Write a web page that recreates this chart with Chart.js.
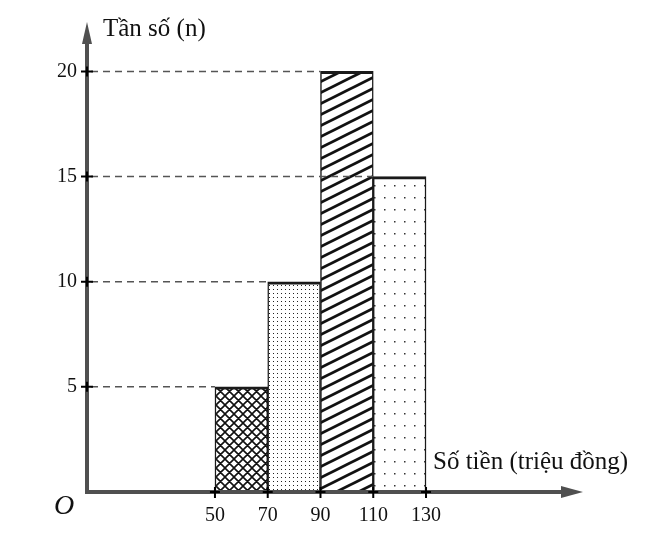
<!DOCTYPE html>
<html>
<head>
<meta charset="utf-8">
<script src="https://cdn.jsdelivr.net/npm/chart.js@4/dist/chart.umd.min.js"></script>
<style>
  html, body { margin: 0; padding: 0; background: #fff; }
  #wrap { width: 650px; height: 559px; position: relative; }
</style>
</head>
<body>
<div id="wrap"><canvas id="chart"></canvas></div>
<script>
// Dữ liệu của biểu đồ
const binEdges = [50, 70, 90, 110, 130];
const frequencies = [5, 10, 20, 15];
const yTicks = [5, 10, 15, 20];
const yTitle = 'Tần số (n)';
const xTitle = 'Số tiền (triệu đồng)';
const originLabel = 'O';

const FONT = "'Liberation Serif', 'DejaVu Serif', serif";
const ctx = document.getElementById('chart');
const c2d = ctx.getContext('2d');

// Tạo các mẫu tô (hoa văn) cho từng cột
function makePattern(w, h, draw) {
  const c = document.createElement('canvas');
  c.width = w; c.height = h;
  const g = c.getContext('2d');
  g.fillStyle = '#fff';
  g.fillRect(0, 0, w, h);
  draw(g, w, h);
  return c2d.createPattern(c, 'repeat');
}

const crossHatch = makePattern(9, 9, (g, w, h) => {
  g.strokeStyle = '#111';
  g.lineWidth = 1.6;
  g.beginPath();
  for (const dx of [-w, 0, w]) {
    g.moveTo(dx, 0); g.lineTo(dx + w, h);
    g.moveTo(dx + w, 0); g.lineTo(dx, h);
  }
  g.stroke();
});

const fineDots = makePattern(4, 4, (g) => {
  g.fillStyle = '#222';
  g.fillRect(1, 1, 1, 1);
});

const diagonal = makePattern(22, 11, (g, w, h) => {
  g.strokeStyle = '#111';
  g.lineWidth = 2.8;
  g.beginPath();
  for (let k = -2; k <= 2; k++) {
    g.moveTo(-w, 2 * h + k * h);
    g.lineTo(2 * w, -h + k * h);
  }
  g.stroke();
});

const sparseDots = makePattern(10, 12, (g) => {
  g.fillStyle = '#333';
  g.fillRect(4, 5, 1.5, 1.5);
});

const barPatterns = [crossHatch, fineDots, diagonal, sparseDots];

// Vẽ trục, mũi tên, vạch chia, đường gạch và tiêu đề
const axesPlugin = {
  id: 'axesPlugin',
  afterDatasetsDraw(chart) {
    const g = chart.ctx;
    const xs = chart.scales.x, ys = chart.scales.y;
    const x0 = chart.chartArea.left, y0 = ys.getPixelForValue(0);
    g.save();

    // đường gạch ngang tới cạnh trái của cột
    g.strokeStyle = '#555';
    g.lineWidth = 1.5;
    g.setLineDash([7, 5]);
    frequencies.forEach((f, i) => {
      const y = ys.getPixelForValue(f);
      g.beginPath();
      g.moveTo(x0 + 4, y);
      g.lineTo(xs.getPixelForValue(binEdges[i]), y);
      g.stroke();
    });
    g.setLineDash([]);

    // trục
    g.strokeStyle = '#505050';
    g.fillStyle = '#505050';
    g.lineWidth = 4;
    const yTop = chart.chartArea.top;
    const xRight = chart.chartArea.right;
    g.beginPath();
    g.moveTo(x0, y0 + 2);
    g.lineTo(x0, yTop + 18);
    g.moveTo(x0 - 2, y0);
    g.lineTo(xRight - 18, y0);
    g.stroke();
    g.beginPath();
    g.moveTo(x0, yTop);
    g.lineTo(x0 - 5, yTop + 22);
    g.lineTo(x0 + 5, yTop + 22);
    g.closePath();
    g.fill();
    g.beginPath();
    g.moveTo(xRight, y0);
    g.lineTo(xRight - 22, y0 - 6);
    g.lineTo(xRight - 22, y0 + 6);
    g.closePath();
    g.fill();

    // vạch chia dạng dấu cộng
    g.strokeStyle = '#000';
    g.lineWidth = 2;
    yTicks.forEach(v => {
      const y = ys.getPixelForValue(v);
      g.beginPath();
      g.moveTo(x0 - 6, y); g.lineTo(x0 + 6, y);
      g.moveTo(x0, y - 5); g.lineTo(x0, y + 5);
      g.stroke();
    });
    binEdges.forEach(v => {
      const x = xs.getPixelForValue(v);
      g.beginPath();
      g.moveTo(x, y0 - 5); g.lineTo(x, y0 + 6);
      g.moveTo(x - 5, y0); g.lineTo(x + 5, y0);
      g.stroke();
    });

    // tiêu đề
    g.fillStyle = '#111';
    g.textBaseline = 'alphabetic';
    g.textAlign = 'left';
    g.font = '25px ' + FONT;
    g.fillText(yTitle, 103, 36);
    g.fillText(xTitle, 433, 469);
    g.font = 'italic 28px ' + FONT;
    g.fillText(originLabel, 54, 514);
    g.restore();
  }
};

new Chart(ctx, {
  type: 'bar',
  data: {
    datasets: [{
      data: frequencies.map((f, i) => ({ x: (binEdges[i] + binEdges[i + 1]) / 2, y: f })),
      backgroundColor: barPatterns,
      borderColor: '#1a1a1a',
      borderWidth: { top: 3, left: 1.5, right: 1.5, bottom: 0 },
      borderSkipped: 'start',
      barPercentage: 1,
      categoryPercentage: 1
    }]
  },
  options: {
    responsive: true,
    maintainAspectRatio: false,
    animation: false,
    layout: { padding: { left: 47, right: 67, top: 18, bottom: 27 } },
    plugins: { legend: { display: false }, tooltip: { enabled: false } },
    scales: {
      x: {
        type: 'linear',
        offset: false,
        min: 1.5,
        max: 189.5,
        grid: { display: false, drawTicks: false },
        border: { display: false },
        afterFit: s => { s.height = 40; },
        afterBuildTicks: s => { s.ticks = binEdges.map(v => ({ value: v })); },
        ticks: { padding: 12, color: '#111', font: { family: FONT, size: 20 } }
      },
      y: {
        min: 0,
        max: 22.35,
        grid: { display: false, drawTicks: false },
        border: { display: false },
        afterFit: s => { s.width = 40; },
        afterBuildTicks: s => { s.ticks = yTicks.map(v => ({ value: v })); },
        ticks: { padding: 10, color: '#111', font: { family: FONT, size: 20 } }
      }
    }
  },
  plugins: [axesPlugin]
});
</script>
</body>
</html>
